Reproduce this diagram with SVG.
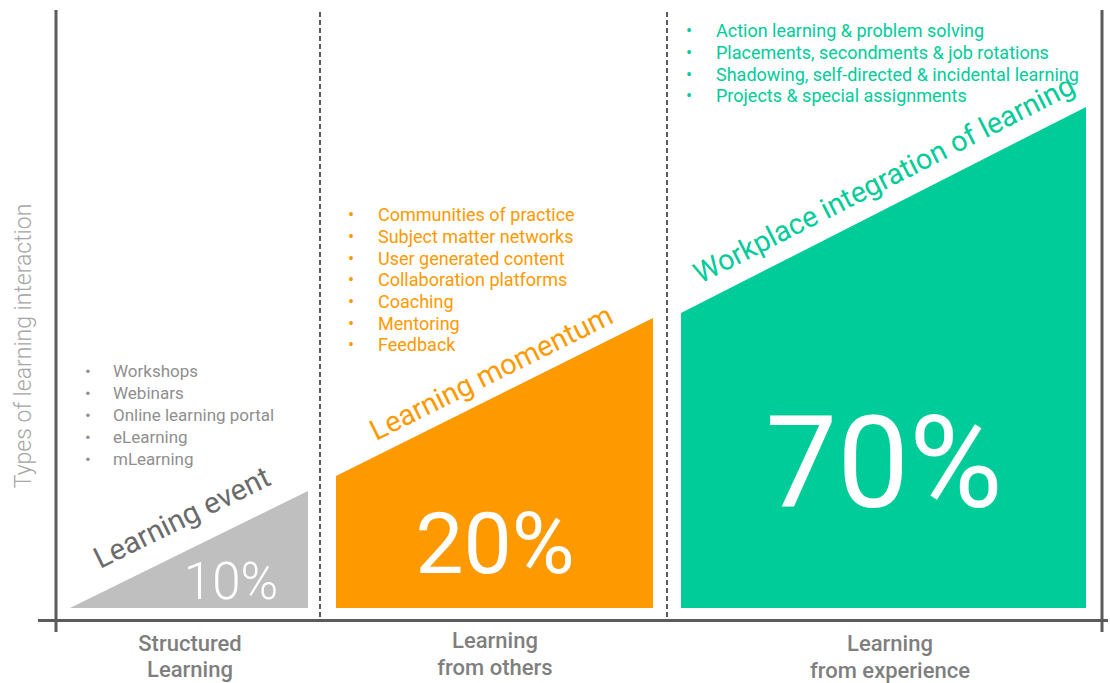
<svg xmlns="http://www.w3.org/2000/svg" width="1110" height="683" viewBox="0 0 1110 683">
<style>
text{font-family:Roboto,"Liberation Sans",Arial,sans-serif}
.axis{stroke:#5b5b5b;stroke-width:3;fill:none}
.dash{stroke:#5b5b5b;stroke-width:2;stroke-dasharray:5 3;fill:none}
.gl{fill:#8f8f8f;font-size:17px}
.ol{fill:#ff9900;font-size:18px}
.tl{fill:#00cc99;font-size:18px}
.big{fill:#ffffff;text-anchor:middle}
.cat{fill:#7f7f7f;font-size:22px;font-weight:500;text-anchor:middle}
.slant{font-size:28.8px}
</style>
<rect width="1110" height="683" fill="#ffffff"/>
<g id="axes">
<line class="axis" x1="56" y1="10" x2="56" y2="632"/>
<line class="axis" x1="38" y1="620.5" x2="1108" y2="620.5"/>
<line class="axis" x1="1102" y1="10" x2="1102" y2="632"/>
<line class="dash" x1="320" y1="12" x2="320" y2="618"/>
<line class="dash" x1="667" y1="12" x2="667" y2="618"/>
<text x="31" y="346" transform="rotate(-90 31 346)" fill="#a6a6a6" font-size="23" font-weight="300" text-anchor="middle">Types of learning interaction</text>
</g>
<g id="structured">
<polygon points="70,608 308,491 308,608" fill="#bfbfbf"/>
<text class="slant" fill="#6b6b6b" font-size="29.5" transform="translate(100,569) rotate(-26.2)" style="font-size:29.5px">Learning event</text>
<text class="big" x="231" y="599" font-size="51" font-weight="300">10%</text>
<g class="gl">
<text x="85" y="377">•</text><text x="113" y="377">Workshops</text>
<text x="85" y="399">•</text><text x="113" y="399">Webinars</text>
<text x="85" y="421">•</text><text x="113" y="421">Online learning portal</text>
<text x="85" y="443">•</text><text x="113" y="443">eLearning</text>
<text x="85" y="465">•</text><text x="113" y="465">mLearning</text>
</g>
<text class="cat" x="190" y="651">Structured</text>
<text class="cat" x="190" y="677">Learning</text>
</g>
<g id="others">
<polygon points="336,476 653,318 653,608 336,608" fill="#ff9900"/>
<text class="slant" fill="#ff9900" transform="translate(376,441) rotate(-26.45)">Learning momentum</text>
<text class="big" x="495" y="573" font-size="86">20%</text>
<g class="ol">
<text x="348" y="221">•</text><text x="378" y="221">Communities of practice</text>
<text x="348" y="243">•</text><text x="378" y="243">Subject matter networks</text>
<text x="348" y="265">•</text><text x="378" y="265">User generated content</text>
<text x="348" y="286">•</text><text x="378" y="286">Collaboration platforms</text>
<text x="348" y="308">•</text><text x="378" y="308">Coaching</text>
<text x="348" y="330">•</text><text x="378" y="330">Mentoring</text>
<text x="348" y="351">•</text><text x="378" y="351">Feedback</text>
</g>
<text class="cat" x="495" y="648">Learning</text>
<text class="cat" x="495" y="675">from others</text>
</g>
<g id="experience">
<polygon points="681,313 1086,107 1086,608 681,608" fill="#00cc99"/>
<text class="slant" fill="#00cc99" transform="translate(700,284) rotate(-27)">Workplace integration of learning</text>
<text class="big" x="884" y="507" font-size="128">70%</text>
<g class="tl">
<text x="686" y="37">•</text><text x="716" y="37">Action learning &amp; problem solving</text>
<text x="686" y="59">•</text><text x="716" y="59">Placements, secondments &amp; job rotations</text>
<text x="686" y="81">•</text><text x="716" y="81">Shadowing, self-directed &amp; incidental learning</text>
<text x="686" y="102">•</text><text x="716" y="102">Projects &amp; special assignments</text>
</g>
<text class="cat" x="890" y="651">Learning</text>
<text class="cat" x="890" y="678">from experience</text>
</g>
</svg>
